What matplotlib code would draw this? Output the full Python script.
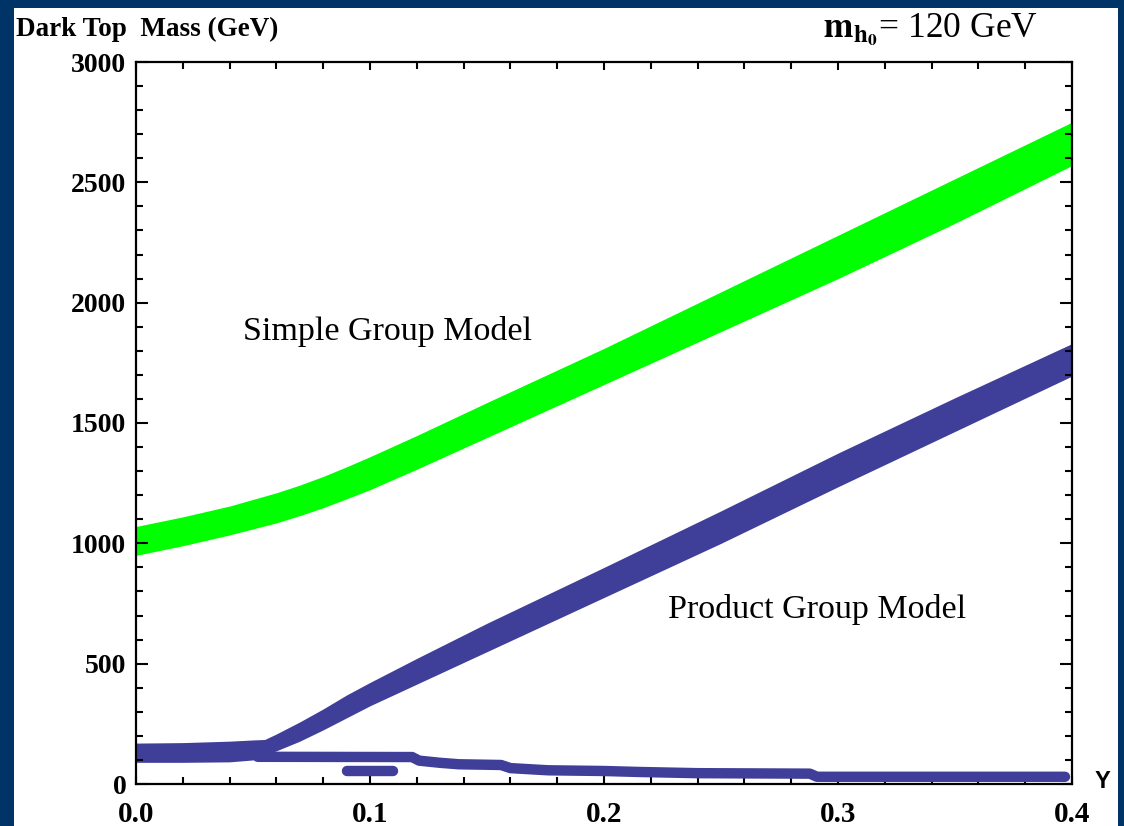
import matplotlib
matplotlib.use("Agg")
import matplotlib.pyplot as plt
from matplotlib.patches import Rectangle
from matplotlib.ticker import MultipleLocator

plt.rcParams['font.family'] = ['Liberation Serif', 'DejaVu Serif']
plt.rcParams['mathtext.fontset'] = 'stix'

# simple group model (green band)
yuk_green = [0.0, 0.02, 0.04, 0.06, 0.07, 0.08, 0.09, 0.10, 0.12, 0.15, 0.20, 0.25, 0.30, 0.35, 0.40]
green_lo = [950, 990, 1035, 1085, 1115, 1148, 1185, 1223, 1308, 1440, 1660, 1880, 2100, 2330, 2570]
green_hi = [1070, 1110, 1155, 1210, 1242, 1278, 1318, 1360, 1448, 1585, 1810, 2045, 2280, 2515, 2750]

# product group model, heavy branch (purple band)
yuk_prod = [0.0, 0.02, 0.04, 0.05, 0.055, 0.06, 0.07, 0.08, 0.09, 0.10, 0.12, 0.15, 0.20, 0.25, 0.30, 0.35, 0.40]
prod_lo = [90, 90, 92, 100, 118, 138, 178, 225, 275, 325, 415, 550, 775, 1000, 1235, 1465, 1695]
prod_hi = [170, 172, 178, 183, 185, 208, 258, 312, 370, 422, 522, 668, 900, 1135, 1375, 1605, 1830]

# product group model, light branch
yuk_light = [0.052, 0.118, 0.121, 0.13, 0.138, 0.156, 0.160, 0.176, 0.20, 0.215, 0.24, 0.288, 0.291, 0.397]
light_mass = [113, 112, 97, 88, 82, 79, 66, 57, 54, 50, 45, 43, 30, 30]

# small isolated piece
yuk_piece = [0.090, 0.110]
piece_mass = [54, 54]

green = '#00ff00'
purple = '#3f3f99'

fig = plt.figure(figsize=(11.24, 8.26), dpi=100, facecolor='#003366')
fig.patches.append(Rectangle((14 / 1124, 0), 1104 / 1124, 818 / 826,
                             transform=fig.transFigure, facecolor='white',
                             edgecolor='none', zorder=-5))

ax = fig.add_axes([136 / 1124, 1 - 784 / 826, 936 / 1124, 722 / 826])
ax.set_zorder(2)
ax.set_facecolor('white')

ax.fill_between(yuk_green, green_lo, green_hi, color=green, lw=0)
ax.fill_between(yuk_prod, prod_lo, prod_hi, color=purple, lw=0)
ax.plot(yuk_light, light_mass, color=purple, lw=7.5, solid_capstyle='round')
ax.plot(yuk_piece, piece_mass, color=purple, lw=7.5, solid_capstyle='round')

ax.set_xlim(0, 0.4)
ax.set_ylim(0, 3000)
ax.xaxis.set_major_locator(MultipleLocator(0.1))
ax.xaxis.set_minor_locator(MultipleLocator(0.02))
ax.yaxis.set_major_locator(MultipleLocator(500))
ax.yaxis.set_minor_locator(MultipleLocator(100))
ax.set_xticks([0.0, 0.1, 0.2, 0.3, 0.4])
ax.set_xticklabels(['0.0', '0.1', '0.2', '0.3', '0.4'])
ax.tick_params(which='both', direction='in', top=True, right=True, width=1.5)
ax.tick_params(axis='x', which='major', length=6, pad=12)
ax.tick_params(axis='x', which='minor', length=5)
ax.tick_params(axis='y', which='major', length=8.5, pad=7)
ax.tick_params(axis='y', which='minor', length=5)
for lab in ax.get_xticklabels():
    lab.set_fontsize(21)
    lab.set_fontweight('bold')
for lab in ax.get_yticklabels():
    lab.set_fontsize(20)
    lab.set_fontweight('bold')
for sp in ax.spines.values():
    sp.set_linewidth(1.6)

ax.text(0.0457, 1845, 'Simple Group Model', fontsize=24.5, va='baseline')
ax.text(0.2274, 690, 'Product Group Model', fontsize=24.5, va='baseline')

fig.text(16 / 1124, 1 - 29 / 826, 'Dark Top  Mass (GeV)', fontsize=19.5,
         va='center', ha='left', fontweight='bold')
fig.text(823 / 1124, 1 - 37 / 826, r'$\mathbf{m_{h_0}}$= 120 GeV', fontsize=25.5,
         va='baseline', ha='left')
fig.text(1102 / 1124, 1 - 782 / 826, 'Y', fontsize=17, fontweight='bold',
         family='Liberation Sans', va='center', ha='center')

fig.savefig('out.png', dpi=100, facecolor=fig.get_facecolor())
